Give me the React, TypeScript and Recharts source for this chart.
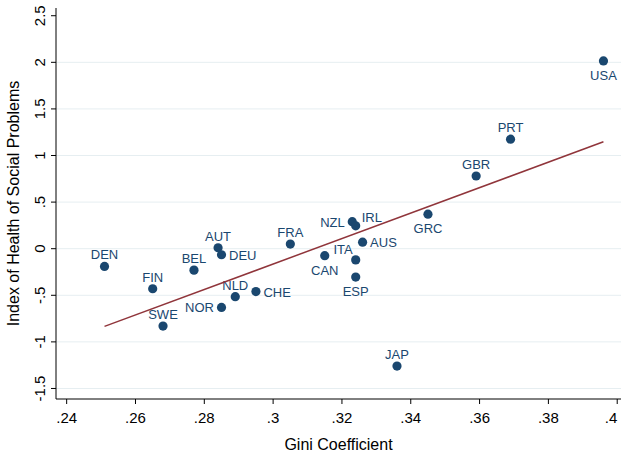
import React from "react";
import {
    ScatterChart,
    Scatter,
    XAxis,
    YAxis,
    CartesianGrid,
} from "recharts";

// Country codes, Gini coefficient, index of health & social problems
const COUNTRIES = [
    "DEN", "FIN", "SWE", "BEL", "AUT", "DEU", "NOR", "NLD", "CHE", "FRA", "CAN",
    "NZL", "IRL", "ITA", "ESP", "AUS", "GRC", "GBR", "PRT", "JAP", "USA",
];
const GINI = [
    0.251, 0.265, 0.268, 0.277, 0.284, 0.285, 0.285, 0.289, 0.295, 0.305, 0.315,
    0.323, 0.324, 0.324, 0.324, 0.326, 0.345, 0.359, 0.369, 0.336, 0.396,
];
const HEALTH_INDEX = [
    -0.19, -0.43, -0.83, -0.23, 0.01, -0.065, -0.63, -0.515, -0.46, 0.05, -0.075,
    0.29, 0.245, -0.12, -0.305, 0.07, 0.37, 0.78, 1.175, -1.26, 2.015,
];

const X_TICKS = [0.24, 0.26, 0.28, 0.3, 0.32, 0.34, 0.36, 0.38, 0.4];
const Y_TICKS = [-1.5, -1, -0.5, 0, 0.5, 1, 1.5, 2, 2.5];
const GRID_VALUES = [-1.5, -1, -0.5, 0, 0.5, 1, 1.5, 2];

// marker label position, clock style (like stata mlabvposition)
const LABEL_POS: Record<string, number> = {
    DEU: 3, CHE: 3, AUS: 3,
    NOR: 9, NZL: 9,
    CAN: 6, ESP: 6, GRC: 6, USA: 6,
    IRL: 2,
    ITA: 11,
};

const NAVY = "#1a476f";
const FIT_RED = "#90353b";
const FONT = "'Liberation Sans', Arial, Helvetica, sans-serif";

const points = COUNTRIES.map((code, i) => ({ code, x: GINI[i], y: HEALTH_INDEX[i] }));

// linear fit (OLS) over the range of the data
const n = points.length;
const mx = GINI.reduce((a, b) => a + b, 0) / n;
const my = HEALTH_INDEX.reduce((a, b) => a + b, 0) / n;
let sxy = 0;
let sxx = 0;
points.forEach((p) => {
    sxy += (p.x - mx) * (p.y - my);
    sxx += (p.x - mx) * (p.x - mx);
});
const slope = sxy / sxx;
const xMin = Math.min(...GINI);
const xMax = Math.max(...GINI);
const fitData = [
    { x: xMin, y: my + slope * (xMin - mx) },
    { x: xMax, y: my + slope * (xMax - mx) },
];

// stata style numbers: ".24", "-.5"
const fmt = (v: number) => {
    const s = String(Number(v.toFixed(2)));
    return s.replace(/^0\./, ".").replace(/^-0\./, "-.");
};

const labelOffset = (pos: number) => {
    switch (pos) {
        case 3: return { dx: 7.5, dy: 5, anchor: "start" };
        case 9: return { dx: -7.5, dy: 5, anchor: "end" };
        case 6: return { dx: 0, dy: 19, anchor: "middle" };
        case 2: return { dx: 6, dy: -4, anchor: "start" };
        case 11: return { dx: -3, dy: -5.5, anchor: "end" };
        default: return { dx: 0, dy: -7, anchor: "middle" };
    }
};

const CountryDot = (props: any) => {
    const { cx, cy, payload } = props;
    const o = labelOffset(LABEL_POS[payload.code] ?? 12);
    return (
        <g>
            <circle cx={cx} cy={cy} r={4.6} fill={NAVY} />
            <text
                x={cx + o.dx}
                y={cy + o.dy}
                textAnchor={o.anchor as any}
                fontSize={13}
                fontFamily={FONT}
                fill={NAVY}
            >
                {payload.code}
            </text>
        </g>
    );
};

const XTick = (props: any) => {
    const { x, y, payload } = props;
    return (
        <text x={x} y={y + 17} textAnchor="middle" fontSize={15} fontFamily={FONT} fill="#000">
            {fmt(payload.value)}
        </text>
    );
};

const YTick = (props: any) => {
    const { x, y, payload } = props;
    const bx = x - 4;
    return (
        <text
            x={bx}
            y={y}
            transform={`rotate(-90, ${bx}, ${y})`}
            textAnchor="middle"
            fontSize={15}
            fontFamily={FONT}
            fill="#000"
        >
            {fmt(payload.value)}
        </text>
    );
};

export default function App() {
    return (
        <div style={{ position: "fixed", left: 0, top: 0, background: "#fff" }}>
            <ScatterChart
                width={621}
                height={455}
                margin={{ top: 8, right: 0, bottom: 0, left: 0 }}
            >
                <CartesianGrid
                    vertical={false}
                    horizontalValues={GRID_VALUES}
                    stroke="#e6eef1"
                    strokeWidth={1}
                />
                <XAxis
                    type="number"
                    dataKey="x"
                    domain={[0.2369, 0.4011]}
                    ticks={X_TICKS}
                    allowDataOverflow
                    height={56}
                    tickSize={5}
                    axisLine={{ stroke: "#000" }}
                    tickLine={{ stroke: "#000" }}
                    tick={<XTick />}
                    label={{
                        content: ({ viewBox }: any) => (
                            <text
                                x={viewBox.x + viewBox.width / 2}
                                y={450}
                                textAnchor="middle"
                                fontSize={16}
                                fontFamily={FONT}
                                fill="#000"
                            >
                                Gini Coefficient
                            </text>
                        ),
                    }}
                />
                <YAxis
                    type="number"
                    dataKey="y"
                    domain={[-1.613, 2.583]}
                    ticks={Y_TICKS}
                    allowDataOverflow
                    width={56}
                    tickSize={5}
                    axisLine={{ stroke: "#000" }}
                    tickLine={{ stroke: "#000" }}
                    tick={<YTick />}
                    label={{
                        content: ({ viewBox }: any) => {
                            const cy = viewBox.y + viewBox.height / 2;
                            return (
                                <text
                                    x={19}
                                    y={cy}
                                    transform={`rotate(-90, 19, ${cy})`}
                                    textAnchor="middle"
                                    fontSize={16}
                                    fontFamily={FONT}
                                    fill="#000"
                                >
                                    Index of Health of Social Problems
                                </text>
                            );
                        },
                    }}
                />
                <Scatter data={points} shape={<CountryDot />} isAnimationActive={false} />
                <Scatter
                    data={fitData}
                    line={{ stroke: FIT_RED, strokeWidth: 1.5 }}
                    shape={() => <g />}
                    isAnimationActive={false}
                />
            </ScatterChart>
        </div>
    );
}
